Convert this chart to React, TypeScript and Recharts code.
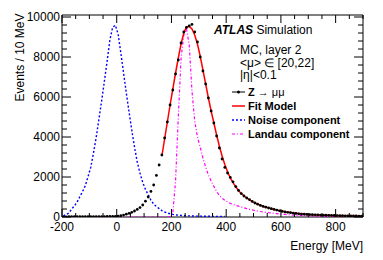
import { ComposedChart, Line, XAxis, YAxis, ReferenceArea } from "recharts"

// bin centres, 10 MeV bins
const energy = [
  -195, -185, -175, -165, -155, -145, -135, -125, -115, -105,
  -95, -85, -75, -65, -55, -45, -35, -25, -15, -5,
  5, 15, 25, 35, 45, 55, 65, 75, 85, 95,
  105, 115, 125, 135, 145, 155, 165, 175, 185, 195,
  205, 215, 225, 235, 245, 255, 265, 275, 285, 295,
  305, 315, 325, 335, 345, 355, 365, 375, 385, 395,
  405, 415, 425, 435, 445, 455, 465, 475, 485, 495,
  505, 515, 525, 535, 545, 555, 565, 575, 585, 595,
  605, 615, 625, 635, 645, 655, 665, 675, 685, 695,
  705, 715, 725, 735, 745, 755, 765, 775, 785, 795,
  805, 815, 825, 835, 845, 855, 865, 875, 885, 895,
]

// Z -> mumu simulated events
const zData = [
  10, 10, 12, 12, 12, 14, 14, 15, 15, 16,
  17, 18, 18, 20, 20, 22, 24, 25, 28, 30,
  40, 65, 95, 140, 185, 235, 300, 380, 470, 600,
  790, 1000, 1280, 1600, 2080, 2600, 3100, 3950, 4750, 5600,
  6350, 7150, 7850, 8700, 9250, 9480, 9560, 9630, 9250, 8750,
  8000, 7300, 6650, 5950, 5300, 4700, 4050, 3450, 2900, 2480,
  2200, 1980, 1760, 1520, 1330, 1170, 1050, 950, 870, 780,
  700, 640, 580, 530, 490, 450, 415, 380, 345, 310,
  280, 255, 235, 215, 195, 178, 160, 148, 138, 128,
  120, 113, 107, 102, 98, 93, 88, 83, 78, 74,
  70, 66, 63, 60, 57, 54, 51, 49, 47, 45,
]

const n = null
const fitData = [
  n, n, n, n, n, n, n, n, n, n,
  n, n, n, n, n, n, n, n, n, n,
  n, n, n, n, n, n, n, n, n, n,
  n, n, n, n, n, n, 3050, 3900, 4750, 5600,
  6400, 7200, 7950, 8650, 9200, 9500, 9530, 9400, 9100, 8650,
  8050, 7350, 6650, 5950, 5300, 4700, 4100, 3550, 3050, 2620,
  2260, 1960, 1720, 1510, 1330, 1180, 1050, 950, 860, 780,
  710, 645, 590, 540, 495, 455, 415, 380, 348, 318,
  290, 265, 242, 222, 203, 186, 170, 157, 145, 135,
  126, 118, 111, 105, 99, 94, 89, 84, 80, 76,
  72, 68, 65, 62, 59, 56, 53, 51, 49, 47,
]

const noiseData = [
  60, 120, 200, 390, 550, 740, 1010, 1270, 1560, 2010,
  2480, 3190, 3990, 4900, 5820, 6800, 7800, 8850, 9480, 9590,
  9150, 8200, 7200, 6200, 5260, 4340, 3500, 2740, 2200, 1730,
  1380, 1110, 840, 650, 520, 420, 320, 250, 200, 165,
  130, 105, 90, 80, 70, 62, 55, 50, 47, 44,
  42, 40, 38, 36, 34, 32, 30, 29, 28, 27,
  n, n, n, n, n, n, n, n, n, n,
  n, n, n, n, n, n, n, n, n, n,
  n, n, n, n, n, n, n, n, n, n,
  n, n, n, n, n, n, n, n, n, n,
  n, n, n, n, n, n, n, n, n, n,
]

const landauData = [
  0, 0, 0, 0, 0, 0, 0, 0, 0, 0,
  0, 0, 0, 0, 0, 0, 0, 0, 0, 0,
  0, 0, 0, 0, 0, 0, 0, 0, 0, 0,
  0, 0, 0, 0, 0, 0, 0, 0, 0, 20,
  200, 1800, 5000, 7900, 9100, 9400, 8600, 6300, 4800, 4000,
  3500, 2950, 2500, 2100, 1800, 1530, 1280, 1080, 940, 830,
  750, 680, 630, 580, 540, 500, 460, 420, 385, 355,
  325, 300, 275, 255, 235, 215, 200, 185, 170, 155,
  140, 128, 115, 105, 95, 85, 78, 70, 63, 57,
  52, 47, 42, 38, 34, 30, 27, 24, 21, 19,
  17, 15, 13, 12, 11, 10, 9, 8, 7, 6,
]

const xTicks = [
  -200, -150, -100, -50, 0, 50, 100, 150, 200, 250, 300, 350,
  400, 450, 500, 550, 600, 650, 700, 750, 800, 850, 900,
]
const xLabels = [-200, 0, 200, 400, 600, 800]
const yTicks = [
  0, 400, 800, 1200, 1600, 2000, 2400, 2800, 3200, 3600, 4000, 4400, 4800,
  5200, 5600, 6000, 6400, 6800, 7200, 7600, 8000, 8400, 8800, 9200, 9600, 10000,
]
const yLabels = [0, 2000, 4000, 6000, 8000, 10000]

const rows = energy.map((e, i) => ({
  e,
  z: zData[i],
  fit: fitData[i],
  noise: noiseData[i],
  landau: landauData[i],
}))

const FONT = "'Liberation Sans', Arial, Helvetica, sans-serif"
const PL = 62
const PR = 363
const PT = 15
const PB = 217

function XTick({ x, payload }: any) {
  const v = payload.value
  const major = xLabels.includes(v)
  const len = major ? 8 : 4
  return (
    <g>
      <line x1={x} x2={x} y1={PB} y2={PB - len} stroke="#000" />
      <line x1={x} x2={x} y1={PT} y2={PT + len} stroke="#000" />
      {major && (
        <text x={x} y={231} textAnchor="middle" fontSize={12} fontFamily={FONT} fill="#000">
          {v}
        </text>
      )}
    </g>
  )
}

function YTick({ y, payload }: any) {
  const v = payload.value
  const major = yLabels.includes(v)
  const len = major ? 9 : 5
  return (
    <g>
      <line x1={PL} x2={PL + len} y1={y} y2={y} stroke="#000" />
      <line x1={PR} x2={PR - len} y1={y} y2={y} stroke="#000" />
      {major && (
        <text x={60} y={y + 4.3} textAnchor="end" fontSize={12} fontFamily={FONT} fill="#000">
          {v}
        </text>
      )}
    </g>
  )
}

export default function App() {
  return (
    <div style={{ position: "absolute", left: 0, top: 0, width: 383, height: 260, background: "#fff" }}>
      <ComposedChart
        width={383}
        height={260}
        data={rows}
        margin={{ top: PT, right: 383 - PR, bottom: 0, left: 0 }}
      >
        <XAxis
          dataKey="e"
          type="number"
          domain={[-200, 900]}
          ticks={xTicks}
          interval={0}
          height={43}
          tickLine={false}
          axisLine={false}
          tick={<XTick />}
          allowDataOverflow
        />
        <YAxis
          type="number"
          domain={[0, 10100]}
          ticks={yTicks}
          interval={0}
          width={PL}
          tickLine={false}
          axisLine={false}
          tick={<YTick />}
          allowDataOverflow
        />
        <ReferenceArea x1={-200} x2={900} y1={0} y2={10100} fill="none" stroke="#000" strokeOpacity={1} fillOpacity={0} ifOverflow="visible" />
        <Line dataKey="noise" type="linear" stroke="#0000ff" strokeWidth={1.4} strokeDasharray="2 2" dot={false} isAnimationActive={false} />
        <Line dataKey="landau" type="linear" stroke="#ff00ff" strokeWidth={1.2} strokeDasharray="3 2 1 2" dot={false} isAnimationActive={false} />
        <Line dataKey="fit" type="linear" stroke="#ff0000" strokeWidth={1.5} dot={false} isAnimationActive={false} />
        <Line dataKey="z" type="linear" stroke="none" dot={{ r: 1.4, fill: "#000", stroke: "none" }} isAnimationActive={false} />
      </ComposedChart>
      <svg width={383} height={260} style={{ position: "absolute", left: 0, top: 0, pointerEvents: "none" }} fontFamily={FONT}>
        <text x={214} y={34} fontSize={12} fill="#000">
          <tspan fontWeight="bold" fontStyle="italic">ATLAS</tspan>
          <tspan> Simulation</tspan>
        </text>
        <text x={240} y={54} fontSize={12} fill="#000">MC, layer 2</text>
        <text x={240} y={66.5} fontSize={12} fill="#000">{"<μ> ∈ [20,22]"}</text>
        <text x={240} y={79} fontSize={12} fill="#000">{"|η|<0.1"}</text>

        <line x1={232} x2={245} y1={92} y2={92} stroke="#000" strokeWidth={1} />
        <circle cx={238.5} cy={92} r={1.5} fill="#000" />
        <text x={248} y={96} fontSize={11} fill="#000">
          <tspan fontWeight="bold">Z</tspan>
          <tspan>{"  →  μμ"}</tspan>
        </text>

        <line x1={232} x2={245} y1={106} y2={106} stroke="#ff0000" strokeWidth={1.5} />
        <text x={248} y={110} fontSize={11} fontWeight="bold" fill="#000">Fit Model</text>

        <line x1={232} x2={245} y1={120} y2={120} stroke="#0000ff" strokeWidth={1.4} strokeDasharray="2 2" />
        <text x={248} y={124} fontSize={11} fontWeight="bold" fill="#000">Noise component</text>

        <line x1={232} x2={245} y1={134} y2={134} stroke="#ff00ff" strokeWidth={1.2} strokeDasharray="3 2 1 2" />
        <text x={248} y={138} fontSize={11} fontWeight="bold" fill="#000">Landau component</text>

        <text x={363} y={249.5} fontSize={12} textAnchor="end" fill="#000">Energy [MeV]</text>
        <text transform="translate(24,13.5) rotate(-90)" fontSize={12} textAnchor="end" fill="#000">
          Events / 10 MeV
        </text>
      </svg>
    </div>
  )
}
